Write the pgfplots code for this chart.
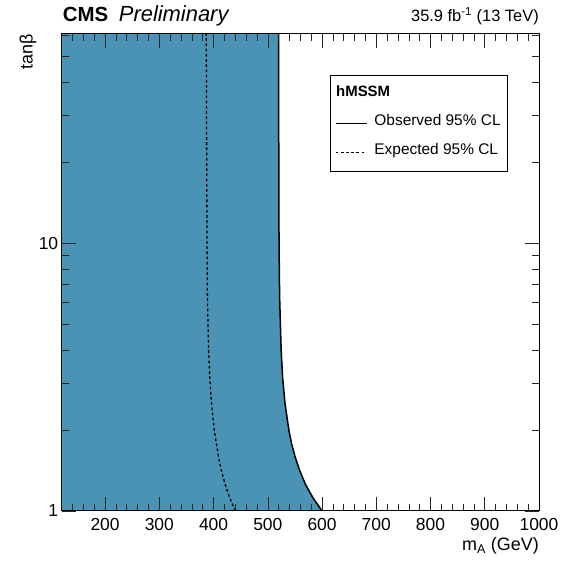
\documentclass[border=0pt]{standalone}
\usepackage{fontspec}
\setmainfont{Liberation Sans}
\usepackage{pgfplots}
\pgfplotsset{compat=1.18}
\definecolor{fillblue}{HTML}{4A93B4}

\begin{document}
\begin{tikzpicture}
\begin{axis}[
  name=ax,
  scale only axis,
  width=477.3bp, height=477bp,
  xmin=120, xmax=1000,
  ymode=log, ymin=1, ymax=60.5,
  xtick={200,300,...,1000},
  minor xtick={140,160,...,980},
  ytick={1,10},
  yticklabels={1,10},
  minor ytick={2,3,4,5,6,7,8,9,20,30,40,50,60},
  tick align=inside,
  major tick length=14bp,
  minor tick length=7bp,
  every tick/.style={black!85, line width=0.6bp},
  axis line style={black, line width=1bp},
  ticklabel style={font=\fontsize{17.5}{21}\selectfont},
  /pgf/number format/assume math mode=true,
  /pgf/number format/1000 sep={},
  xticklabel style={anchor=base, yshift=-20bp},
  axis on top,
  legend image code/.code={\draw[#1] (0bp,0bp) -- (31bp,0bp); \path (36bp,0bp);},
  legend cell align=left,
  legend style={at={(rel axis cs:0.562,0.914)}, anchor=north west,
    draw=black, line width=1bp, inner xsep=4.5bp, inner ysep=12bp,
    row sep=15bp, font=\fontsize{15.5}{18}\selectfont,
    nodes={inner sep=2bp, text depth=0.25em, text height=0.75em}},
]
\addlegendimage{legend image code/.code={\node[overlay, anchor=west, inner sep=0pt, font=\bfseries\fontsize{15}{18}\selectfont] at (0bp,0bp) {hMSSM};}}
\addlegendentry{\strut}

\addplot[draw=none, fill=fillblue, forget plot] coordinates {
  (120,1) (600,1) (583,1.122) (569.3,1.259) (559,1.413) (550.7,1.585)
  (544,1.778) (539,1.995) (531.8,2.512) (527.3,3.162) (524.6,3.98)
  (521.8,6.31) (520.7,10) (520.2,20) (520,70) (120,70)
} -- cycle;

\addplot[black, line width=1.5bp] coordinates {
  (600,1) (583,1.122) (569.3,1.259) (559,1.413) (550.7,1.585)
  (544,1.778) (539,1.995) (531.8,2.512) (527.3,3.162) (524.6,3.98)
  (521.8,6.31) (520.7,10) (520.2,20) (520,70)
};
\addlegendentry{Observed 95\% CL\hspace{7bp}}

\addplot[black, line width=1.3bp, dash pattern=on 2.8bp off 2.4bp] coordinates {
  (440,1) (429.7,1.122) (421.3,1.259) (414.6,1.413) (409.2,1.585)
  (401.4,1.995) (396.3,2.512) (393,3.162) (390.9,3.98) (388.6,6.31)
  (388,10) (387.3,20) (386.5,70)
};
\addlegendentry{Expected 95\% CL\hspace{7bp}}
\end{axis}

\node[anchor=base west, inner sep=0pt, font=\bfseries\fontsize{20.5}{24}\selectfont] at ([shift={(1bp,12.3bp)}]ax.north west) {CMS};
\node[anchor=base west, inner sep=0pt, font=\itshape\fontsize{22}{26}\selectfont] at ([shift={(57bp,12.3bp)}]ax.north west) {Preliminary};
\node[anchor=base east, inner sep=0pt, font=\fontsize{16.5}{20}\selectfont] at ([shift={(0bp,12.3bp)}]ax.north east) {35.9 fb\textsuperscript{-1} (13 TeV)};
\node[rotate=90, anchor=east, inner sep=0pt, font=\fontsize{18}{22}\selectfont] at ([shift={(-33.7bp,0bp)}]ax.north west) {tanβ};
\node[anchor=base east, inner sep=0pt, font=\fontsize{18}{22}\selectfont] at ([shift={(0bp,-40bp)}]ax.south east) {m\textsubscript{A} (GeV)};

\pgfresetboundingbox
\path ([shift={(-61.7bp,-51bp)}]ax.south west) rectangle ([shift={(28bp,34bp)}]ax.north east);
\end{tikzpicture}
\end{document}
